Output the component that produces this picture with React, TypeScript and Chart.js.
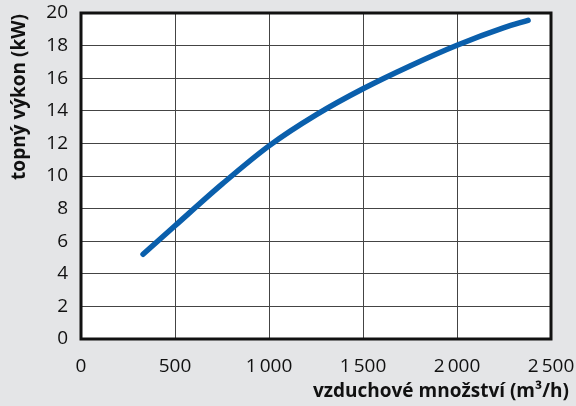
import React, { useEffect, useRef } from 'react';
import { Chart, registerables, Plugin } from 'chart.js';

Chart.register(...registerables);

// airflow (m3/h) vs heating output (kW)
const airflow = [330, 500, 750, 1000, 1250, 1500, 1750, 2000, 2250, 2378];
const heatOutput = [5.2, 6.95, 9.5, 11.85, 13.75, 15.35, 16.75, 18.02, 19.1, 19.55];

const xTickLabels = ['0', '500', '1\u2009000', '1\u2009500', '2\u2009000', '2\u2009500'];
const yTickLabels = ['0', '2', '4', '6', '8', '10', '12', '14', '16', '18', '20'];

const xTitle = 'vzduchové množství (m³/h)';
const yTitle = 'topný výkon (kW)';

const BG = '#e4e5e7';
const FONT = '"Open Sans", "Noto Sans", sans-serif';

const framePlugin: Plugin<'scatter'> = {
  id: 'frame',
  beforeDraw(chart) {
    const { ctx, chartArea: a } = chart;
    ctx.save();
    ctx.fillStyle = BG;
    ctx.fillRect(0, 0, chart.width, chart.height);
    ctx.fillStyle = '#fff';
    ctx.fillRect(a.left, a.top, a.right - a.left, a.bottom - a.top);
    ctx.restore();
  },
  afterDraw(chart) {
    const { ctx, chartArea: a } = chart;
    ctx.save();
    ctx.strokeStyle = '#111';
    ctx.lineWidth = 3;
    ctx.strokeRect(a.left, a.top, a.right - a.left, a.bottom - a.top);

    ctx.fillStyle = '#111';
    ctx.font = `bold 19px ${FONT}`;
    ctx.textAlign = 'right';
    ctx.textBaseline = 'middle';
    ctx.fillText(xTitle, 569, 392);

    ctx.translate(20, 14);
    ctx.rotate(-Math.PI / 2);
    ctx.fillText(yTitle, 0, 0);
    ctx.restore();
  },
};

const HeatChart: React.FC = () => {
  const canvasRef = useRef<HTMLCanvasElement | null>(null);
  const chartRef = useRef<Chart | null>(null);

  useEffect(() => {
    if (!canvasRef.current) return;
    const ctx = canvasRef.current.getContext('2d');
    if (!ctx) return;

    chartRef.current = new Chart(ctx, {
      type: 'scatter',
      data: {
        datasets: [
          {
            data: airflow.map((x, i) => ({ x, y: heatOutput[i] })),
            showLine: true,
            borderColor: '#0a5fac',
            borderWidth: 5.5,
            borderCapStyle: 'round',
            cubicInterpolationMode: 'monotone',
            pointRadius: 0,
            fill: false,
          },
        ],
      },
      options: {
        responsive: false,
        animation: false,
        layout: { padding: { top: 13, right: 25, bottom: 0, left: 0 } },
        plugins: {
          legend: { display: false },
          tooltip: { enabled: false },
        },
        scales: {
          x: {
            type: 'linear',
            min: 0,
            max: 2500,
            afterFit: (s) => {
              s.height = 67;
              s.paddingLeft = 0;
              s.paddingRight = 0;
            },
            border: { display: false },
            grid: { color: '#444', lineWidth: 1, drawTicks: false },
            ticks: {
              stepSize: 500,
              padding: 16,
              color: '#111',
              font: { family: FONT, size: 19 },
              maxRotation: 0,
              callback: (v) => xTickLabels[Math.round(Number(v) / 500)],
            },
          },
          y: {
            type: 'linear',
            min: 0,
            max: 20,
            afterFit: (s) => {
              s.width = 81;
              s.paddingTop = 0;
              s.paddingBottom = 0;
            },
            border: { display: false },
            grid: { color: '#444', lineWidth: 1, drawTicks: false },
            ticks: {
              stepSize: 2,
              padding: 13,
              color: '#111',
              font: { family: FONT, size: 19 },
              callback: (v) => yTickLabels[Math.round(Number(v) / 2)],
            },
          },
        },
      },
      plugins: [framePlugin],
    });

    return () => {
      if (chartRef.current) {
        chartRef.current.destroy();
        chartRef.current = null;
      }
    };
  }, []);

  return <canvas ref={canvasRef} width={576} height={406} />;
};

export default function App() {
  return (
    <div style={{ position: 'fixed', left: 0, top: 0, width: 576, height: 406, background: BG }}>
      <HeatChart />
    </div>
  );
}
